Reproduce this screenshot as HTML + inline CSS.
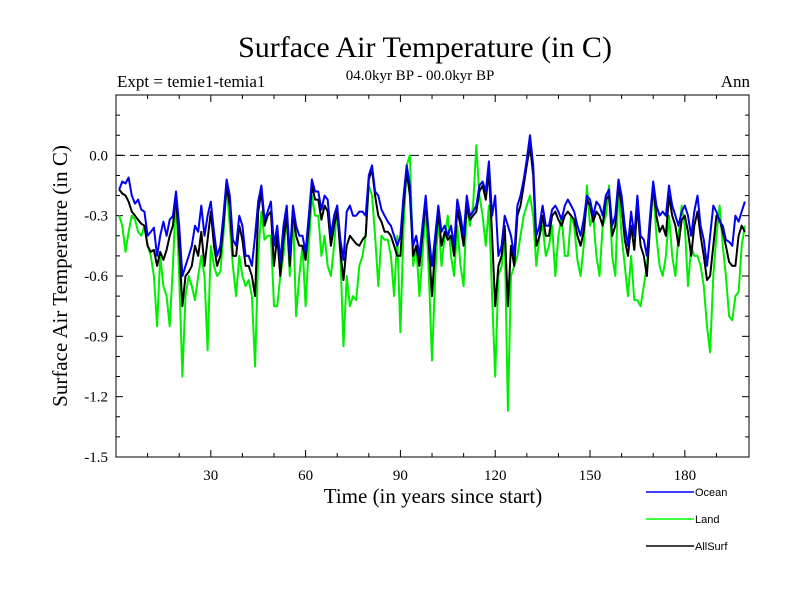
<!DOCTYPE html>
<html><head><meta charset="utf-8"><style>
body{margin:0;background:#fff;width:800px;height:600px;overflow:hidden}
svg text{font-family:"Liberation Serif",serif;fill:#000}
</style></head><body>
<svg id="chart" width="800" height="600">
<text x="425" y="57" font-size="30" text-anchor="middle">Surface Air Temperature (in C)</text>
<text x="117" y="87" font-size="17">Expt = temie1-temia1</text>
<text x="420" y="80" font-size="15" text-anchor="middle">04.0kyr BP - 00.0kyr BP</text>
<text x="750" y="87" font-size="17" text-anchor="end">Ann</text>
<text x="433" y="503" font-size="21" text-anchor="middle">Time (in years since start)</text>
<text transform="translate(67,276) rotate(-90)" font-size="21" text-anchor="middle">Surface Air Temperature (in C)</text>
<g id="axes"></g>
<g id="series"></g>
<g>
<line x1="646" y1="492" x2="694" y2="492" stroke="#0000ff" stroke-width="1.5"/>
<text x="695" y="496" font-size="11" style="font-family:'Liberation Sans',sans-serif">Ocean</text>
<line x1="646" y1="519" x2="694" y2="519" stroke="#00ff00" stroke-width="1.5"/>
<text x="695" y="523" font-size="11" style="font-family:'Liberation Sans',sans-serif">Land</text>
<line x1="646" y1="546" x2="694" y2="546" stroke="#000" stroke-width="1.5"/>
<text x="695" y="550" font-size="11" style="font-family:'Liberation Sans',sans-serif">AllSurf</text>
</g>
</svg>
<script>
const xTicks=[30,60,90,120,150,180];
const yTicks=[0.0,-0.3,-0.6,-0.9,-1.2,-1.5];
const yTickLabels=["0.0","-0.3","-0.6","-0.9","-1.2","-1.5"];
const ocean=[-0.17,-0.13,-0.14,-0.11,-0.2,-0.24,-0.22,-0.27,-0.28,-0.4,
-0.38,-0.36,-0.5,-0.4,-0.33,-0.4,-0.32,-0.3,-0.18,-0.35,
-0.6,-0.55,-0.5,-0.45,-0.35,-0.38,-0.25,-0.4,-0.3,-0.23,
-0.38,-0.5,-0.45,-0.3,-0.12,-0.2,-0.42,-0.45,-0.3,-0.35,
-0.5,-0.5,-0.55,-0.4,-0.23,-0.15,-0.32,-0.28,-0.23,-0.45,
-0.35,-0.53,-0.35,-0.25,-0.5,-0.25,-0.35,-0.4,-0.4,-0.48,
-0.3,-0.12,-0.18,-0.18,-0.27,-0.2,-0.22,-0.4,-0.3,-0.25,
-0.42,-0.52,-0.28,-0.25,-0.3,-0.3,-0.28,-0.28,-0.3,-0.1,
-0.05,-0.18,-0.2,-0.27,-0.3,-0.33,-0.35,-0.4,-0.45,-0.4,
-0.2,-0.05,-0.15,-0.45,-0.4,-0.5,-0.35,-0.2,-0.4,-0.55,
-0.4,-0.25,-0.38,-0.35,-0.4,-0.35,-0.45,-0.22,-0.3,-0.4,
-0.2,-0.3,-0.28,-0.25,-0.15,-0.13,-0.18,-0.03,-0.3,-0.2,
-0.5,-0.45,-0.3,-0.35,-0.4,-0.5,-0.25,-0.2,-0.12,-0.02,
0.1,-0.05,-0.4,-0.35,-0.25,-0.35,-0.35,-0.27,-0.25,-0.28,
-0.32,-0.25,-0.22,-0.25,-0.28,-0.35,-0.4,-0.32,-0.2,-0.22,
-0.3,-0.23,-0.25,-0.3,-0.2,-0.17,-0.35,-0.3,-0.12,-0.2,
-0.35,-0.45,-0.28,-0.4,-0.2,-0.4,-0.42,-0.5,-0.3,-0.13,
-0.25,-0.3,-0.28,-0.3,-0.15,-0.25,-0.3,-0.35,-0.28,-0.25,
-0.3,-0.4,-0.28,-0.2,-0.35,-0.42,-0.55,-0.4,-0.25,-0.28,
-0.33,-0.35,-0.42,-0.43,-0.45,-0.3,-0.33,-0.28,-0.23];
const land=[-0.3,-0.35,-0.48,-0.38,-0.3,-0.32,-0.38,-0.4,-0.35,-0.45,
-0.5,-0.6,-0.85,-0.5,-0.65,-0.7,-0.85,-0.55,-0.2,-0.6,
-1.1,-0.7,-0.6,-0.65,-0.72,-0.6,-0.5,-0.6,-0.97,-0.45,
-0.55,-0.6,-0.58,-0.4,-0.15,-0.35,-0.55,-0.7,-0.5,-0.6,
-0.65,-0.62,-0.7,-1.05,-0.5,-0.28,-0.42,-0.4,-0.4,-0.75,
-0.75,-0.6,-0.5,-0.3,-0.6,-0.28,-0.8,-0.6,-0.45,-0.75,
-0.45,-0.2,-0.3,-0.3,-0.5,-0.4,-0.55,-0.6,-0.45,-0.25,
-0.5,-0.95,-0.6,-0.75,-0.7,-0.72,-0.55,-0.5,-0.4,-0.15,
-0.2,-0.4,-0.65,-0.4,-0.42,-0.42,-0.5,-0.7,-0.4,-0.88,
-0.35,-0.05,0.0,-0.55,-0.45,-0.7,-0.5,-0.25,-0.6,-1.02,
-0.6,-0.3,-0.55,-0.4,-0.3,-0.5,-0.6,-0.35,-0.55,-0.65,
-0.25,-0.35,-0.25,0.05,-0.2,-0.3,-0.45,-0.25,-0.7,-1.1,
-0.6,-0.55,-0.4,-1.27,-0.6,-0.55,-0.5,-0.4,-0.3,-0.25,
-0.2,-0.3,-0.55,-0.4,-0.35,-0.5,-0.45,-0.35,-0.6,-0.4,
-0.3,-0.5,-0.5,-0.3,-0.35,-0.52,-0.6,-0.45,-0.15,-0.35,
-0.3,-0.5,-0.6,-0.35,-0.3,-0.15,-0.5,-0.6,-0.15,-0.4,
-0.55,-0.7,-0.5,-0.72,-0.72,-0.75,-0.65,-0.55,-0.35,-0.15,
-0.4,-0.55,-0.6,-0.5,-0.3,-0.5,-0.6,-0.4,-0.25,-0.35,
-0.65,-0.45,-0.5,-0.5,-0.55,-0.65,-0.85,-0.98,-0.6,-0.4,
-0.25,-0.45,-0.6,-0.8,-0.82,-0.7,-0.68,-0.45,-0.35];
const allsurf=[-0.17,-0.19,-0.2,-0.23,-0.28,-0.3,-0.32,-0.34,-0.35,-0.45,
-0.48,-0.47,-0.55,-0.48,-0.52,-0.47,-0.4,-0.35,-0.2,-0.45,
-0.75,-0.6,-0.58,-0.55,-0.45,-0.5,-0.38,-0.55,-0.42,-0.28,
-0.45,-0.55,-0.5,-0.35,-0.15,-0.25,-0.5,-0.5,-0.35,-0.42,
-0.55,-0.55,-0.6,-0.7,-0.28,-0.18,-0.35,-0.3,-0.28,-0.55,
-0.4,-0.6,-0.42,-0.3,-0.55,-0.28,-0.4,-0.45,-0.45,-0.52,
-0.35,-0.15,-0.22,-0.22,-0.32,-0.25,-0.28,-0.45,-0.35,-0.28,
-0.48,-0.62,-0.45,-0.4,-0.42,-0.44,-0.45,-0.42,-0.4,-0.12,
-0.07,-0.2,-0.3,-0.33,-0.38,-0.38,-0.4,-0.45,-0.5,-0.5,
-0.25,-0.08,-0.2,-0.5,-0.45,-0.55,-0.4,-0.22,-0.45,-0.7,
-0.45,-0.28,-0.45,-0.38,-0.42,-0.4,-0.5,-0.27,-0.35,-0.45,
-0.25,-0.32,-0.3,-0.28,-0.18,-0.15,-0.22,-0.08,-0.4,-0.75,
-0.55,-0.5,-0.35,-0.75,-0.45,-0.55,-0.3,-0.25,-0.15,-0.05,
0.05,-0.1,-0.45,-0.4,-0.3,-0.4,-0.4,-0.3,-0.28,-0.32,
-0.35,-0.3,-0.28,-0.3,-0.32,-0.4,-0.45,-0.38,-0.22,-0.25,
-0.33,-0.28,-0.3,-0.35,-0.22,-0.2,-0.4,-0.35,-0.15,-0.25,
-0.42,-0.5,-0.35,-0.47,-0.25,-0.45,-0.5,-0.6,-0.35,-0.15,
-0.3,-0.38,-0.35,-0.4,-0.2,-0.3,-0.35,-0.45,-0.32,-0.3,
-0.38,-0.5,-0.35,-0.28,-0.4,-0.5,-0.62,-0.6,-0.45,-0.3,
-0.32,-0.38,-0.45,-0.53,-0.55,-0.55,-0.4,-0.35,-0.38];

const X0=116,X1=749,Y0=95,Y1=457;
const xMin=0,xMax=200.3,yMin=-1.5,yMax=0.3;
function sx(v){return X0+(v-xMin)/(xMax-xMin)*(X1-X0);}
function sy(v){return Y1-(v-yMin)/(yMax-yMin)*(Y1-Y0);}
const NS='http://www.w3.org/2000/svg';
function mk(tag,attrs,parent){const e=document.createElementNS(NS,tag);for(const k in attrs)e.setAttribute(k,attrs[k]);parent.appendChild(e);return e;}
const axes=document.getElementById('axes');
const frame=mk('rect',{x:X0,y:Y0,width:X1-X0,height:Y1-Y0,fill:'none',stroke:'#000','stroke-width':1},axes);


const zl=mk('line',{x1:X0,x2:X1,y1:sy(0),y2:sy(0),stroke:'#000','stroke-dasharray':'9,5','stroke-width':1},axes);


// minor/major ticks
for(let v=10;v<200;v+=10){
  const major=xTicks.includes(v);const L=major?7:4;
  const t=mk('line',{x1:sx(v),x2:sx(v),y1:Y1,y2:Y1-L,stroke:'#000'},axes);
  
  
  const t2=mk('line',{x1:sx(v),x2:sx(v),y1:Y0,y2:Y0+L,stroke:'#000'},axes);
  
  
}
xTicks.forEach(v=>{
  const tx=mk('text',{x:sx(v),y:Y1+23,'font-size':15,'text-anchor':'middle'},axes);
  tx.textContent=v;
  
  
});
for(let i=-14;i<=2;i++){
  const v=i/10;const major=(Math.abs(i)%3===0);const L=major?7:4;
  const t=mk('line',{x1:X0,x2:X0+L,y1:sy(v),y2:sy(v),stroke:'#000'},axes);
  
  
  const t2=mk('line',{x1:X1,x2:X1-L,y1:sy(v),y2:sy(v),stroke:'#000'},axes);
  
  
}
yTicks.forEach((v,i)=>{
  const tx=mk('text',{x:X0-8,y:sy(v)+5,'font-size':15,'text-anchor':'end'},axes);
  tx.textContent=yTickLabels[i];
  
  
});
const g=document.getElementById('series');
function draw(arr,color,name,w){
  const pts=arr.map((v,i)=>sx(i+1).toFixed(1)+','+sy(v).toFixed(1)).join(' ');
  const p=mk('polyline',{points:pts,fill:'none',stroke:color,'stroke-width':w,'stroke-linejoin':'round'},g);
  
  
}
draw(land,'#00ee00','land-series',2);
draw(allsurf,'#000000','allsurf-series',2);
draw(ocean,'#0000ee','ocean-series',2);
</script>
</body></html>
